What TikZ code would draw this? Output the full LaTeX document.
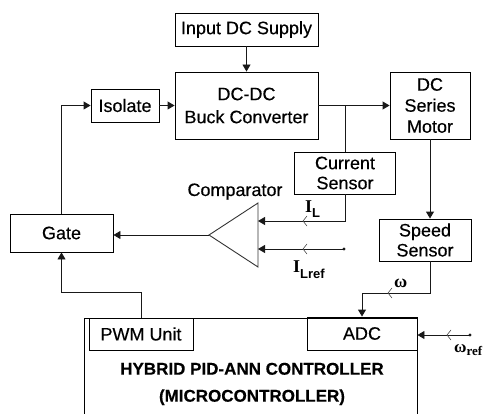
\documentclass[tikz,border=0pt]{standalone}
\usepackage{fontspec}
\setmainfont{Liberation Sans}[FakeBold=0.35]
\newfontfamily\sansbb{Liberation Sans Bold}
\newfontfamily\serifbb{Liberation Serif Bold}
\usetikzlibrary{arrows.meta}
\begin{document}
\begin{tikzpicture}[x=1pt,y=-1pt,
  box/.style={draw=black,line width=0.9pt,inner sep=0pt,align=center,
    font=\fontsize{18}{21}\selectfont},
  conn/.style={draw=black!90,line width=0.9pt},
  arr/.style={conn,-{Triangle[length=7pt,width=8pt]}},
  barbline/.style={draw=black!70,line width=0.6pt},
  lbl/.style={inner sep=0pt}]
\useasboundingbox (0,0) rectangle (484,414);

% blocks
\node[box,minimum width=143pt,minimum height=33pt] (supply) at (246.5,29.5) {Input DC Supply};
\node[box,minimum width=143pt,minimum height=67pt,font=\fontsize{18}{23}\selectfont] (buck) at (246.5,105.5) {DC-DC\\Buck Converter};
\node[box,minimum width=68pt,minimum height=33pt] (isolate) at (125,105.5) {Isolate};
\node[box,minimum width=80pt,minimum height=67pt] (motor) at (430,105.5) {DC\\Series\\Motor};
\node[box,minimum width=101pt,minimum height=42pt,font=\fontsize{18}{20}\selectfont] (cursens) at (345,173) {Current\\Sensor};
\node[box,minimum width=103pt,minimum height=38pt] (gate) at (61.5,233) {Gate};
\node[box,minimum width=92pt,minimum height=42pt,font=\fontsize{18}{20}\selectfont] (speed) at (425,240) {Speed\\Sensor};

% comparator
\coordinate (ctip) at (209,235);
\coordinate (cin1) at (258,221);
\coordinate (cin2) at (258,249);
\draw[conn,draw=black!80] (258,203) -- (ctip) -- (258,267) -- cycle;
\node[lbl,anchor=base,font=\fontsize{18}{21}\selectfont] (complbl) at (235,196) {Comparator};

% microcontroller
\draw[box] (84,414) -- (84,318) -- (417,318) -- (417,414);
\node[box,minimum width=104pt,minimum height=32pt] (pwm) at (141,334) {PWM Unit};
\node[box,minimum width=110pt,minimum height=33pt] (adc) at (362,333.5) {ADC};
\node[lbl,align=center,font=\bfseries\fontsize{17}{27}\selectfont] (ctrl) at (252,384) {HYBRID PID-ANN CONTROLLER\\(MICROCONTROLLER)};

% connectors
\draw[arr] (supply.south) -- (buck.north);
\draw[arr] (isolate.east) -- (buck.west);
\coordinate (jn) at (345,105.5);
\draw[arr] (buck.east) -- (motor.west);
\draw[conn] (jn) -- (cursens.north);
\draw[arr] (cursens.south) |- (cin1);
\coordinate (ilref) at (344,249);
\fill[black!90] (ilref) circle (1.6);
\draw[arr] (ilref) -- (cin2);
\draw[arr] (ctip) -- (ctip -| gate.east);
\draw[arr] (gate.north) |- (isolate.west);
\draw[arr] (pwm.north) -- ++(0,-25) -| (gate.south);
\draw[arr] (motor.south) -- (motor.south |- speed.north);
\draw[arr] (motor.south |- speed.south) -- ++(0,32) -| (adc.north);
\coordinate (wref) at (470,335);
\fill[black!90] (wref) circle (1.6);
\draw[arr] (wref) -- (wref -| adc.east);

% open barbs on signal lines
\foreach \bx/\by in {303/221,303/249,388/293,447/335}
  \draw[barbline] (\bx+4,\by-5) -- (\bx,\by) -- (\bx+4,\by+5);

% signal labels
\node[lbl,anchor=base west] (il) at (305,212)
  {\serifbb\fontsize{18}{18}\selectfont I\raisebox{-5pt}{\sansbb\fontsize{13}{13}\selectfont L}};
\node[lbl,anchor=base west] (ilr) at (293,272)
  {\serifbb\fontsize{18}{18}\selectfont I\raisebox{-6pt}{\sansbb\fontsize{13}{13}\selectfont Lref}};
\node[lbl,anchor=base west] (w) at (394,287)
  {\serifbb\fontsize{18}{18}\selectfont ω};
\node[lbl,anchor=base west] (wr) at (454,352)
  {\serifbb\fontsize{17}{17}\selectfont ω\raisebox{-3pt}{\fontsize{13}{13}\selectfont ref}};
\end{tikzpicture}
\end{document}
